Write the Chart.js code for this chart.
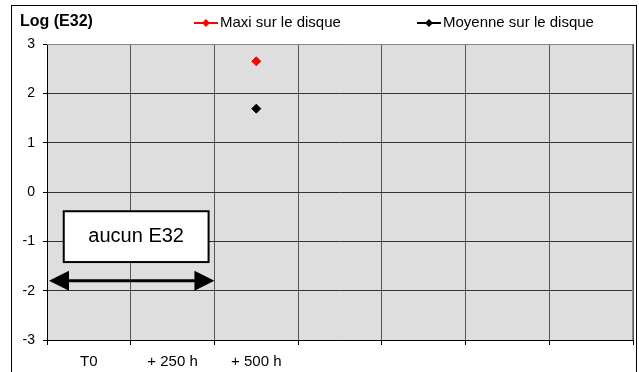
<!DOCTYPE html>
<html>
<head>
<meta charset="utf-8">
<script src="https://cdn.jsdelivr.net/npm/chart.js@4.4.0/dist/chart.umd.min.js"></script>
<style>
    html, body { margin: 0; padding: 0; background: #fff; }
    #wrap { width: 639px; height: 372px; position: relative; }
</style>
</head>
<body>
<div id="wrap"><canvas id="e32Chart" width="639" height="372"></canvas></div>
<script>
// DONNÉES
const categories = ['T0', '+ 250 h', '+ 500 h', '', '', '', ''];
const maxiValues = [null, null, 2.65, null, null, null, null];
const moyenneValues = [null, null, 1.69, null, null, null, null];
const yTicks = [-3, -2, -1, 0, 1, 2, 3];

// Annotation "aucun E32" (en unités des axes)
const boxX = [-0.3, 1.43];
const boxY = [-0.39, -1.42];
const arrowX = [-0.5, 1.5];
const arrowY = -1.8;

const fontFamily = '"Liberation Sans", Arial, sans-serif';

// Fond gris, cadre, légende et annotation
const decorPlugin = {
    id: 'decor',
    beforeDraw(chart) {
        const c = chart.ctx;
        const a = chart.chartArea;
        c.save();
        c.fillStyle = '#fff';
        c.fillRect(0, 0, chart.width, chart.height);
        c.fillStyle = '#dedede';
        c.fillRect(a.left, a.top, a.right - a.left, a.bottom - a.top);
        c.restore();
    },
    afterDraw(chart) {
        const c = chart.ctx;
        const a = chart.chartArea;
        const xs = chart.scales.x;
        const ys = chart.scales.y;
        c.save();

        // bordure haut / droite de la zone de tracé
        c.strokeStyle = '#888';
        c.lineWidth = 1;
        c.beginPath();
        c.moveTo(a.left, a.top + 0.5);
        c.lineTo(a.right - 0.5, a.top + 0.5);
        c.lineTo(a.right - 0.5, a.bottom);
        c.stroke();

        // cadre extérieur
        c.strokeStyle = '#000';
        c.lineWidth = 1;
        c.strokeRect(11.5, 5.5, 625, 380);

        // titre de l'axe
        c.fillStyle = '#000';
        c.font = 'bold 16px ' + fontFamily;
        c.textBaseline = 'middle';
        c.fillText('Log (E32)', 20, 22);

        // légende
        const legend = [
            { x: 194, color: '#ff0000', text: 'Maxi sur le disque' },
            { x: 417, color: '#000000', text: 'Moyenne sur le disque' }
        ];
        c.font = '15px ' + fontFamily;
        legend.forEach(item => {
            c.strokeStyle = item.color;
            c.lineWidth = 2;
            c.beginPath();
            c.moveTo(item.x, 23);
            c.lineTo(item.x + 24, 23);
            c.stroke();
            c.fillStyle = item.color;
            c.beginPath();
            c.moveTo(item.x + 12, 19);
            c.lineTo(item.x + 16, 23);
            c.lineTo(item.x + 12, 27);
            c.lineTo(item.x + 8, 23);
            c.closePath();
            c.fill();
            c.fillStyle = '#000';
            c.fillText(item.text, item.x + 26, 23);
        });

        // boîte "aucun E32"
        const bx1 = xs.getPixelForValue(boxX[0]);
        const bx2 = xs.getPixelForValue(boxX[1]);
        const by1 = ys.getPixelForValue(boxY[0]);
        const by2 = ys.getPixelForValue(boxY[1]);
        c.fillStyle = '#fff';
        c.fillRect(bx1, by1, bx2 - bx1, by2 - by1);
        c.strokeStyle = '#000';
        c.lineWidth = 2;
        c.strokeRect(bx1, by1, bx2 - bx1, by2 - by1);
        c.fillStyle = '#000';
        c.font = '20px ' + fontFamily;
        c.textAlign = 'center';
        c.fillText('aucun E32', (bx1 + bx2) / 2, (by1 + by2) / 2);

        // flèche double
        const ax1 = xs.getPixelForValue(arrowX[0]) + 2;
        const ax2 = xs.getPixelForValue(arrowX[1]);
        const ay = ys.getPixelForValue(arrowY);
        c.lineWidth = 3;
        c.beginPath();
        c.moveTo(ax1 + 18, ay);
        c.lineTo(ax2 - 18, ay);
        c.stroke();
        c.beginPath();
        c.moveTo(ax1, ay);
        c.lineTo(ax1 + 20, ay - 10);
        c.lineTo(ax1 + 20, ay + 10);
        c.closePath();
        c.fill();
        c.beginPath();
        c.moveTo(ax2, ay);
        c.lineTo(ax2 - 20, ay - 10);
        c.lineTo(ax2 - 20, ay + 10);
        c.closePath();
        c.fill();

        c.restore();
    }
};

const ctx = document.getElementById('e32Chart').getContext('2d');
new Chart(ctx, {
    type: 'line',
    data: {
        labels: categories,
        datasets: [{
            label: 'Maxi sur le disque',
            data: maxiValues,
            borderColor: '#ff0000',
            backgroundColor: '#ff0000',
            pointStyle: 'rectRot',
            pointRadius: 4.5,
            showLine: false
        }, {
            label: 'Moyenne sur le disque',
            data: moyenneValues,
            borderColor: '#000000',
            backgroundColor: '#000000',
            pointStyle: 'rectRot',
            pointRadius: 4.5,
            showLine: false
        }]
    },
    options: {
        responsive: false,
        animation: false,
        layout: { padding: { top: 44, right: 6, left: 0, bottom: 0 } },
        plugins: {
            legend: { display: false },
            tooltip: { enabled: false }
        },
        scales: {
            x: {
                type: 'category',
                offset: true,
                grid: {
                    offset: true,
                    color: '#555',
                    lineWidth: 1,
                    tickLength: 5,
                    tickColor: '#000'
                },
                border: { color: '#000', width: 1 },
                ticks: {
                    color: '#000',
                    font: { family: fontFamily, size: 15 },
                    padding: 8,
                    maxRotation: 0,
                    autoSkip: false
                },
                afterFit(scale) { scale.height = 32; }
            },
            y: {
                min: -3,
                max: 3,
                afterBuildTicks(scale) {
                    scale.ticks = yTicks.map(v => ({ value: v }));
                },
                grid: {
                    color: '#333',
                    lineWidth: 1,
                    tickLength: 4,
                    tickColor: '#000'
                },
                border: { color: '#000', width: 1 },
                ticks: {
                    color: '#000',
                    font: { family: fontFamily, size: 14 },
                    padding: 8
                },
                afterFit(scale) { scale.width = 47; }
            }
        }
    },
    plugins: [decorPlugin]
});
</script>
</body>
</html>
